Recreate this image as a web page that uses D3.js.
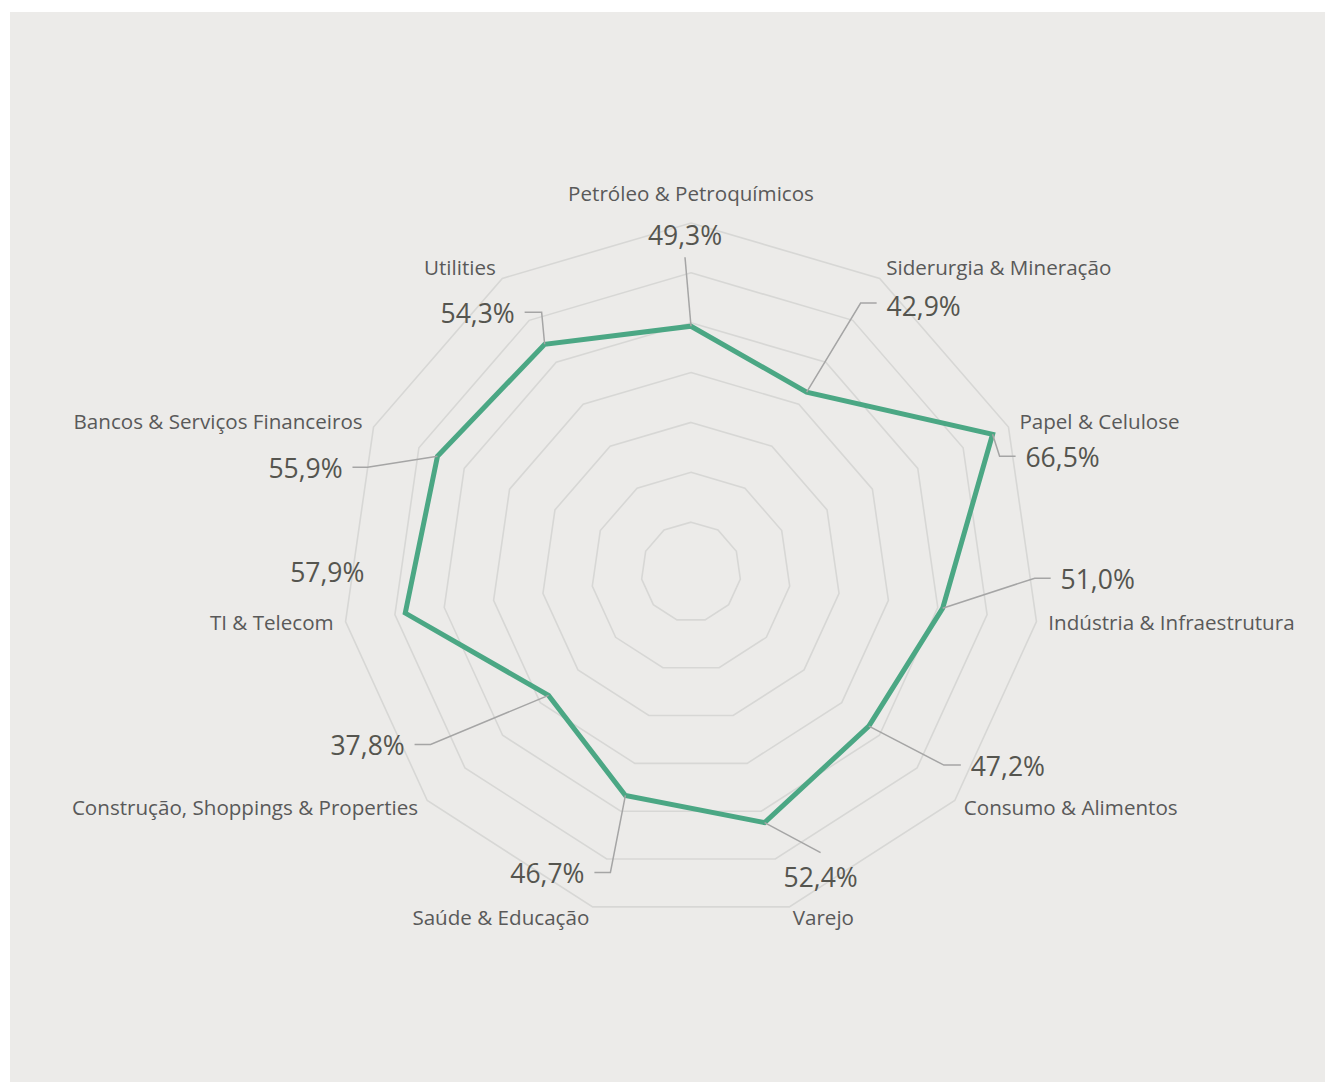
<!DOCTYPE html>
<html>
<head>
<meta charset="utf-8">
<script src="https://cdn.jsdelivr.net/npm/d3@7"></script>
<style>
  html, body { margin: 0; padding: 0; background: #ffffff; }
  svg { display: block; }
  text { font-family: "Open Sans", "Noto Sans", sans-serif; }
</style>
</head>
<body>
<svg id="chart" width="1325" height="1082"></svg>
<script>
// ---- data ----
const categories = [
  "Petróleo & Petroquímicos",
  "Siderurgia & Mineração",
  "Papel & Celulose",
  "Indústria & Infraestrutura",
  "Consumo & Alimentos",
  "Varejo",
  "Saúde & Educação",
  "Construção, Shoppings & Properties",
  "TI & Telecom",
  "Bancos & Serviços Financeiros",
  "Utilities"
];
const values = [49.3, 42.9, 66.5, 51.0, 47.2, 52.4, 46.7, 37.8, 57.9, 55.9, 54.3];
const gridTicks = [10, 20, 30, 40, 50, 60, 70];

// ---- layout for data labels (offsets from the data point): [textDx, textDy, elbowDx, elbowDy, mode]
// mode: "h" = elbow then horizontal segment, "s" = straight to elbow, null = no leader
const labelLayout = [
  [-6, -91, -6, -69, "s"],
  [117, -86, 54, -89, "h"],
  [70, 23, 7, 22, "h"],
  [155, -29, 92, -30, "h"],
  [139, 40, 75, 39, "h"],
  [56, 55, 56, 30, "s"],
  [-78, 78, -15, 77, "h"],
  [-181, 50, -118, 49, "h"],
  [-78, -41, 0, 0, null],
  [-132, 12, -70, 11, "h"],
  [-67, -31, -3, -32, "h"]
];

// ---- drawing ----
const W = 1325, H = 1082;
const cx = 691, cy = 572, R = 349;
const svg = d3.select("#chart");

svg.append("rect")
  .attr("x", 10).attr("y", 12)
  .attr("width", W - 10).attr("height", H - 12)
  .attr("fill", "#ecebe9");

const g = svg.append("g").attr("transform", `translate(${cx},${cy})`);

const n = categories.length;
const r = d3.scaleLinear().domain([0, 70]).range([0, R]);
const angle = d3.scaleLinear().domain([0, n]).range([0, 2 * Math.PI]);

const px = (i, v) => r(v) * Math.sin(angle(i));
const py = (i, v) => -r(v) * Math.cos(angle(i));

// grid polygons
const gridLine = d3.lineRadial().curve(d3.curveLinearClosed);
g.selectAll("path.grid")
  .data(gridTicks)
  .join("path")
  .attr("class", "grid")
  .attr("d", t => gridLine(d3.range(n).map(i => [angle(i), r(t)])))
  .attr("fill", "none")
  .attr("stroke", "#d7d7d5")
  .attr("stroke-width", 1.6);

// data line
const dataLine = d3.lineRadial()
  .angle((d, i) => angle(i))
  .radius(d => r(d))
  .curve(d3.curveLinearClosed);

g.append("path")
  .datum(values)
  .attr("d", dataLine)
  .attr("fill", "none")
  .attr("stroke", "#4ba784")
  .attr("stroke-width", 5)
  .attr("stroke-linejoin", "miter");

// category labels
const labR = R + 12;
g.selectAll("text.cat")
  .data(categories)
  .join("text")
  .attr("class", "cat")
  .each(function(d, i) {
    const a = angle(i);
    const s = Math.sin(a), c = Math.cos(a);
    let x = labR * s, y = -labR * c - 1.5;
    let anchor = s > 0.05 ? "start" : (s < -0.05 ? "end" : "middle");
    if (anchor === "middle") y -= 16.5;
    d3.select(this)
      .attr("x", x).attr("y", y)
      .attr("text-anchor", anchor)
      .attr("dominant-baseline", "central");
  })
  .attr("font-size", 20.6)
  .attr("fill", "#595959")
  .text(d => d);

// data labels & leaders
const fmt = d3.formatLocale({decimal: ",", thousands: ".", grouping: [3], currency: ["", ""]}).format(".1f");
const fs = 26.5;
const halfW = 37;

values.forEach((v, i) => {
  const x0 = px(i, v), y0 = py(i, v);
  const [tdx, tdy, edx, edy, mode] = labelLayout[i];
  const tx = x0 + tdx, ty = y0 + tdy;
  if (mode) {
    const pts = [[x0, y0], [x0 + edx, y0 + edy]];
    if (mode === "h") {
      const endX = tdx > edx ? tx - halfW - 10 : tx + halfW + 10;
      pts.push([endX, y0 + edy]);
    }
    g.append("path")
      .attr("d", d3.line()(pts))
      .attr("fill", "none")
      .attr("stroke", "#a5a5a5")
      .attr("stroke-width", 1.5);
  }
  g.append("text")
    .attr("x", tx)
    .attr("y", ty + 0.357 * fs)
    .attr("text-anchor", "middle")
    .attr("font-size", fs)
    .attr("fill", "#55554f")
    .text(fmt(v) + "%");
});
</script>
</body>
</html>
